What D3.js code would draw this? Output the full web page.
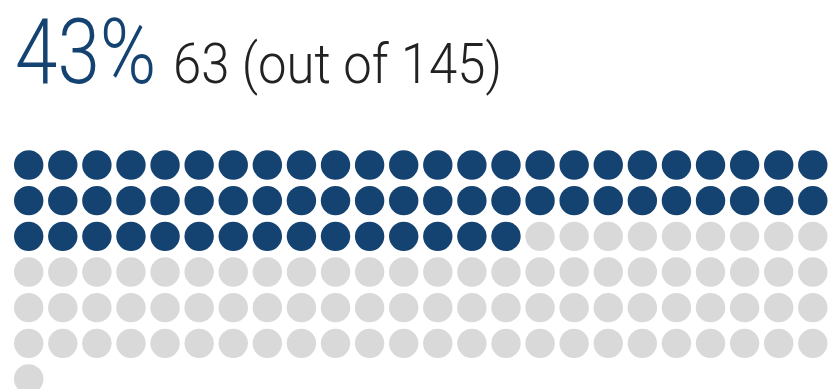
<!DOCTYPE html>
<html><head><meta charset="utf-8">
<script src="https://cdn.jsdelivr.net/npm/d3@7"></script>
<style>html,body{margin:0;padding:0;background:#fff;}svg{display:block;}</style>
</head><body>
<svg id="c" width="840" height="389"></svg>
<script>
const total = 145;
const filled = 63;
const columns = 24;
const labels = ["43%", "63 (out of 145)"];

const svg = d3.select("#c");
const rows = Math.ceil(total / columns);
const x = d3.scaleLinear().domain([0, columns - 1]).range([28.7, 812.8]);
const y = d3.scaleLinear().domain([0, rows - 1]).range([165, 379]);
const data = d3.range(total).map(i => ({i, col: i % columns, row: Math.floor(i / columns), on: i < filled}));

svg.selectAll("circle").data(data).join("circle")
  .attr("cx", d => x(d.col)).attr("cy", d => y(d.row)).attr("r", 14.7)
  .attr("fill", d => d.on ? "#144372" : "#d9d9d9");

svg.append("text").attr("transform", "translate(15,83) scale(0.84,1)")
  .style("font-family", "Roboto").style("font-weight", 300)
  .attr("fill", "#144372").style("font-size", "91px").text(labels[0]);
svg.append("text").attr("transform", "translate(173,83) scale(0.908,1)")
  .style("font-family", "Roboto").style("font-weight", 300)
  .attr("fill", "#222").style("font-size", "56px").text(labels[1]);
</script>
</body></html>
